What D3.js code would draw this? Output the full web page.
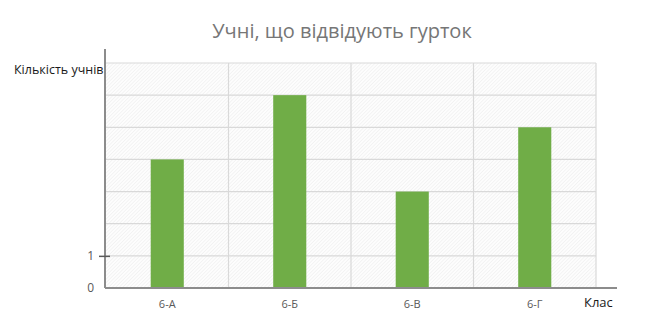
<!DOCTYPE html>
<html lang="uk">
<head>
<meta charset="utf-8">
<title>Учні, що відвідують гурток</title>
<script src="https://d3js.org/d3.v7.min.js"></script>
<style>
  body { margin: 0; background: #fff; }
  svg text { font-family: "Open Sans", "Noto Sans", sans-serif; }
</style>
</head>
<body>
<div id="chart"></div>
<script>
// chart data
var classes = ["6-А", "6-Б", "6-В", "6-Г"];
var pupils = [4, 6, 3, 5];
var yTicks = [0, 1];
var yMax = 7;

var W = 671, H = 335;
var margin = {top: 63, right: 75, bottom: 47, left: 106};
var width = W - margin.left - margin.right,
    height = H - margin.top - margin.bottom;

var svg = d3.select("#chart").append("svg")
    .attr("width", W)
    .attr("height", H);

// fine hatched plot background
var defs = svg.append("defs");
var pat = defs.append("pattern")
    .attr("id", "hatch")
    .attr("patternUnits", "userSpaceOnUse")
    .attr("width", 2.5).attr("height", 2.5)
    .attr("patternTransform", "rotate(45)");
pat.append("rect").attr("width", 2.5).attr("height", 2.5).attr("fill", "#fdfdfd");
pat.append("line").attr("x1", 0).attr("y1", 0).attr("x2", 0).attr("y2", 2.5)
    .attr("stroke", "#e6e6e6").attr("stroke-width", 0.8);

var g = svg.append("g")
    .attr("transform", "translate(" + margin.left + "," + margin.top + ")");

var x = d3.scaleBand().domain(classes).range([0, width]).paddingInner(0).paddingOuter(0);
var y = d3.scaleLinear().domain([0, yMax]).range([height, 0]);

g.append("rect")
    .attr("width", width).attr("height", height)
    .attr("fill", "url(#hatch)");

// horizontal grid
g.selectAll(".hgrid").data(d3.range(1, yMax + 1)).enter().append("line")
    .attr("x1", 0).attr("x2", width)
    .attr("y1", function(d) { return y(d); })
    .attr("y2", function(d) { return y(d); })
    .attr("stroke", "#d9d9d9").attr("stroke-width", 1.2);

// vertical grid
g.selectAll(".vgrid").data(classes.slice(1).concat(["end"])).enter().append("line")
    .attr("x1", function(d) { return d === "end" ? width : x(d); })
    .attr("x2", function(d) { return d === "end" ? width : x(d); })
    .attr("y1", 0).attr("y2", height)
    .attr("stroke", "#d9d9d9").attr("stroke-width", 1.2);

// bars
var bw = x.bandwidth() * 0.27;
g.selectAll(".bar").data(pupils).enter().append("rect")
    .attr("x", function(d, i) { return x(classes[i]) + x.bandwidth() / 2 - bw / 2; })
    .attr("y", function(d) { return y(d); })
    .attr("width", bw)
    .attr("height", function(d) { return height - y(d); })
    .attr("fill", "#70ad47");

// y axis
g.append("line")
    .attr("x1", -1).attr("x2", -1)
    .attr("y1", -14).attr("y2", height)
    .attr("stroke", "#8c8c8c").attr("stroke-width", 2);

var yAxis = g.append("g")
    .call(d3.axisLeft(y).tickValues(yTicks).tickFormat(d3.format("d")).tickSize(0).tickPadding(12));
yAxis.select(".domain").remove();
yAxis.selectAll("text")
    .attr("fill", "#595959")
    .style("font-size", "12px");
yAxis.selectAll(".tick").filter(function(d) { return d > 0; })
    .append("line")
    .attr("x1", -7).attr("x2", 4)
    .attr("stroke", "#595959").attr("stroke-width", 1.5);

// x axis
g.append("line")
    .attr("x1", -1).attr("x2", width + 21)
    .attr("y1", height).attr("y2", height)
    .attr("stroke", "#8c8c8c").attr("stroke-width", 2);

var xAxis = g.append("g")
    .attr("transform", "translate(0," + height + ")")
    .call(d3.axisBottom(x).tickSize(0).tickPadding(12));
xAxis.select(".domain").remove();
xAxis.selectAll("text")
    .attr("fill", "#595959")
    .style("font-size", "11px");

// labels
svg.append("text")
    .attr("x", 342).attr("y", 38)
    .attr("text-anchor", "middle")
    .attr("fill", "#767676")
    .style("font-size", "20px")
    .text("Учні, що відвідують гурток");

svg.append("text")
    .attr("x", 14).attr("y", 74)
    .attr("fill", "#1a1a1a")
    .style("font-size", "12.5px")
    .text("Кількість учнів");

svg.append("text")
    .attr("x", 584).attr("y", 307)
    .attr("fill", "#1a1a1a")
    .style("font-size", "13px")
    .text("Клас");
</script>
</body>
</html>
